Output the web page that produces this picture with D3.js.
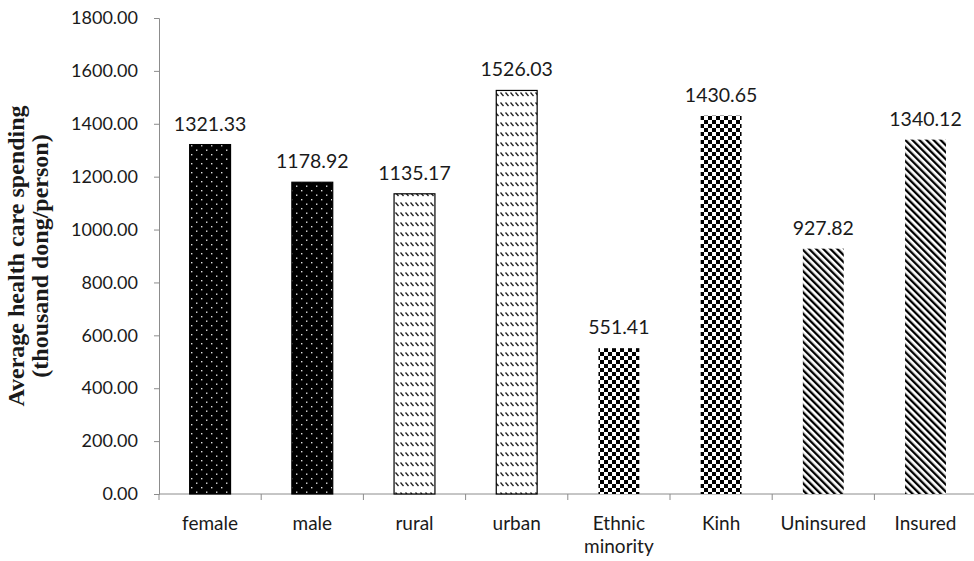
<!DOCTYPE html>
<html>
<head>
<meta charset="utf-8">
<script src="https://cdn.jsdelivr.net/npm/d3@7"></script>
<style>
  body { margin: 0; background: #fff; }
  text { font-family: Lato, "Open Sans", sans-serif; fill: #1a1a1a; }
</style>
</head>
<body>
<div id="wrapper"></div>
<script>
const categories = ['female', 'male', 'rural', 'urban', 'Ethnic minority', 'Kinh', 'Uninsured', 'Insured']
const spending = [1321.33, 1178.92, 1135.17, 1526.03, 551.41, 1430.65, 927.82, 1340.12]
const patterns = ['dots', 'dots', 'waves', 'waves', 'checks', 'checks', 'stripes', 'stripes']
const yTicks = [0, 200, 400, 600, 800, 1000, 1200, 1400, 1600, 1800]

const width = 974
const height = 561
const margin = { top: 18, bottom: 66, left: 159 }
const step = 102.2

const svg = d3.select('#wrapper')
    .append('svg')
        .attr('width', width)
        .attr('height', height)

const defs = svg.append('defs')

// black with white dots
const dots = defs.append('pattern')
    .attr('id', 'dots')
    .attr('patternUnits', 'userSpaceOnUse')
    .attr('width', 10)
    .attr('height', 9)
dots.append('rect').attr('width', 10).attr('height', 9).attr('fill', '#000')
dots.append('rect').attr('x', 1).attr('y', 1).attr('width', 1.4).attr('height', 1.4).attr('fill', '#ddd')
dots.append('rect').attr('x', 6).attr('y', 5.5).attr('width', 1.4).attr('height', 1.4).attr('fill', '#ddd')

// rows of short slanted dashes
const waves = defs.append('pattern')
    .attr('id', 'waves')
    .attr('patternUnits', 'userSpaceOnUse')
    .attr('width', 5)
    .attr('height', 10)
waves.append('rect').attr('width', 5).attr('height', 10).attr('fill', '#fff')
waves.append('line')
    .attr('x1', 0.5).attr('y1', 2.5).attr('x2', 3.5).attr('y2', 6)
    .attr('stroke', '#222').attr('stroke-width', 1.3)

// checkerboard
const checks = defs.append('pattern')
    .attr('id', 'checks')
    .attr('patternUnits', 'userSpaceOnUse')
    .attr('width', 8)
    .attr('height', 8)
checks.append('rect').attr('width', 8).attr('height', 8).attr('fill', '#fff')
checks.append('rect').attr('width', 4).attr('height', 4).attr('fill', '#000')
checks.append('rect').attr('x', 4).attr('y', 4).attr('width', 4).attr('height', 4).attr('fill', '#000')

// wide downward diagonal stripes
const stripes = defs.append('pattern')
    .attr('id', 'stripes')
    .attr('patternUnits', 'userSpaceOnUse')
    .attr('width', 5)
    .attr('height', 5)
    .attr('patternTransform', 'rotate(-45)')
stripes.append('rect').attr('width', 5).attr('height', 5).attr('fill', '#fff')
stripes.append('rect').attr('x', 0).attr('width', 2.3).attr('height', 5).attr('fill', '#000')

const xScale = d3.scaleBand()
    .domain(categories)
    .range([margin.left, margin.left + step * categories.length])
    .paddingInner(0.6)
    .paddingOuter(0.3)

const yScale = d3.scaleLinear()
    .domain([0, 1800])
    .range([height - margin.bottom - 1, margin.top])

const bounds = svg.append('g')

// y axis
const yAxis = bounds.append('g')
    .attr('transform', `translate(${margin.left},0)`)
    .call(d3.axisLeft(yScale).tickValues(yTicks).tickFormat(d3.format('.2f')).tickSize(5).tickPadding(16))
yAxis.select('.domain').attr('stroke', '#8c8c8c')
yAxis.selectAll('.tick line').attr('stroke', '#8c8c8c')
yAxis.selectAll('.tick text').style('font-size', '18px').attr('fill', '#1a1a1a')

// x axis line and ticks between categories
const xAxis = bounds.append('g')
    .attr('transform', `translate(0,${yScale(0)})`)
xAxis.append('line')
    .attr('x1', margin.left).attr('x2', width)
    .attr('stroke', '#8c8c8c')
const tickXs = d3.range(categories.length + 1).map(i => margin.left + i * step)
xAxis.selectAll('.xt')
    .data(tickXs)
    .join('line')
        .attr('x1', d => d).attr('x2', d => d)
        .attr('y1', 0).attr('y2', 6)
        .attr('stroke', '#8c8c8c')

// category labels
const xLabels = bounds.selectAll('.xlabel')
    .data(categories)
    .join('text')
        .attr('class', 'xlabel')
        .attr('x', d => xScale(d) + xScale.bandwidth() / 2)
        .attr('y', yScale(0) + 36)
        .attr('text-anchor', 'middle')
        .style('font-size', '19px')
xLabels.each(function (d) {
    const words = d === 'Ethnic minority' ? ['Ethnic', 'minority'] : [d]
    const t = d3.select(this)
    words.forEach((w, i) => {
        t.append('tspan')
            .attr('x', xScale(d) + xScale.bandwidth() / 2)
            .attr('dy', i === 0 ? 0 : 23)
            .text(w)
    })
})

// bars
bounds.selectAll('.bar')
    .data(spending)
    .join('rect')
        .attr('class', 'bar')
        .attr('x', (d, i) => xScale(categories[i]))
        .attr('y', d => yScale(d))
        .attr('width', xScale.bandwidth())
        .attr('height', d => yScale(0) - yScale(d))
        .attr('fill', (d, i) => `url(#${patterns[i]})`)
        .attr('stroke', (d, i) => patterns[i] === 'waves' || patterns[i] === 'dots' ? '#000' : 'none')
        .attr('stroke-width', 1.2)

// value labels
bounds.selectAll('.value')
    .data(spending)
    .join('text')
        .attr('class', 'value')
        .attr('x', (d, i) => xScale(categories[i]) + xScale.bandwidth() / 2)
        .attr('y', d => yScale(d) - 14)
        .attr('text-anchor', 'middle')
        .style('font-size', '19.5px')
        .text(d => d.toFixed(2))

// y axis title
const title = bounds.append('text')
    .attr('transform', `translate(24,${(margin.top + yScale(0)) / 2}) rotate(-90)`)
    .attr('text-anchor', 'middle')
    .style('font-family', '"Liberation Serif", serif')
    .style('font-weight', 'bold')
    .style('font-size', '24px')
    .attr('fill', '#000')
title.append('tspan').attr('x', 0).attr('dy', 0).text('Average health care spending')
title.append('tspan').attr('x', 0).attr('dy', 24).text('(thousand dong/person)')
</script>
</body>
</html>
